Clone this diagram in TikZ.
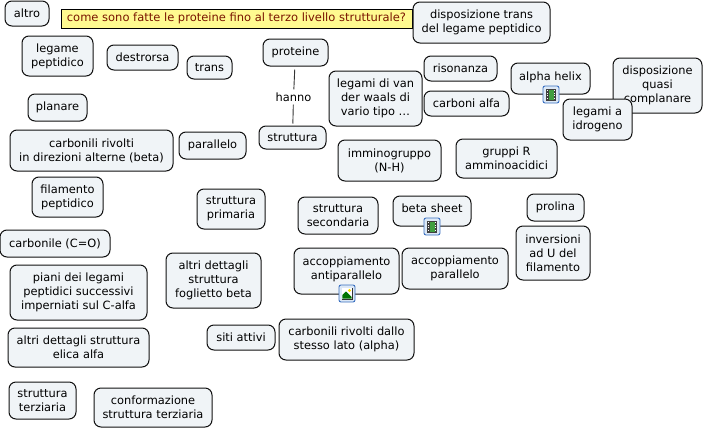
\documentclass[tikz,border=0pt]{standalone}
\usepackage{fontspec}
\setmainfont{DejaVu Sans}
\definecolor{boxfill}{HTML}{F0F4F7}
\definecolor{boxline}{HTML}{111111}
\definecolor{titlefill}{HTML}{FFFA90}
\definecolor{titletext}{HTML}{7A1500}
\definecolor{iconblue}{HTML}{3A6FC0}
\definecolor{iconpale}{HTML}{DCE8F6}
\tikzset{
  concept/.style={draw=boxline,fill=boxfill,rounded corners=7pt,line width=1pt,align=center,inner sep=0pt,font=\fontsize{11.4}{14}\selectfont,text=black},
  linker/.style={inner sep=0pt,font=\fontsize{11.4}{14}\selectfont,text=black},
  link/.style={draw=black!80,line width=0.9pt},
  titlebox/.style={draw=black,fill=titlefill,line width=1pt,inner sep=0pt,text=titletext,font=\fontsize{11.5}{14}\selectfont}
}
\newcommand{\bx}[6]{%
  \pgfmathsetmacro{\mycx}{(#2+#4)/2}\pgfmathsetmacro{\mycy}{(#3+#5)/2}%
  \pgfmathsetmacro{\mybw}{#4-#2}\pgfmathsetmacro{\mybh}{#5-#3}%
  \node[concept,minimum width=\mybw pt,minimum height=\mybh pt] (#1) at (\mycx,\mycy) {#6};}
\newcommand{\filmicon}[2]{%
  \begin{scope}[shift={(#1,#2)}]
    \fill[iconpale,draw=iconblue,line width=0.9pt,rounded corners=2pt] (0,0) rectangle (16,17);
    \fill[black!75] (3,2.5) rectangle (13,14.5);
    \fill[green!50!black!75] (5.5,3.5) rectangle (10.5,13.5);
    \foreach \yy in {4,6.5,9,11.5}{\fill[white] (3.7,\yy) rectangle (4.7,\yy+1.1);\fill[white] (11.3,\yy) rectangle (12.3,\yy+1.1);}
  \end{scope}}
\newcommand{\photoicon}[2]{%
  \begin{scope}[shift={(#1,#2)}]
    \fill[iconpale,draw=iconblue,line width=0.9pt,rounded corners=2pt] (0,0) rectangle (16,17);
    \fill[black!80] (2.5,2.5) rectangle (13.5,14.5);
    \fill[white] (3.3,3.3) rectangle (12.7,13.7);
    \fill[green!45!black] (3.3,13.7) -- (3.3,10) -- (7,6.5) -- (12.7,12) -- (12.7,13.7) -- cycle;
    \fill[yellow!80!orange] (10.5,5.5) circle (1.6);
  \end{scope}}
\begin{document}
\begin{tikzpicture}[x=1pt,y=-1pt]
\useasboundingbox (0,0) rectangle (705,429);
\fill[white] (0,0) rectangle (705,429);
\node[titlebox,minimum width=351pt,minimum height=19pt] (title) at (236.5,18.5) {come sono fatte le proteine fino al terzo livello strutturale?};
\bx{altro}{5}{1}{49}{26}{altro}
\bx{legame}{22}{36}{93}{76}{legame\\peptidico}
\bx{destrorsa}{107}{45}{178}{70}{destrorsa}
\bx{trans}{187}{56}{232}{79}{trans}
\bx{proteine}{263}{39}{328}{66}{proteine}
\bx{struttura}{259}{126}{326}{149}{struttura}
\bx{vanderwaals}{329}{71}{422}{126}{legami di van\\der waals di\\vario tipo \dots}
\bx{risonanza}{424}{56}{497}{81}{risonanza}
\bx{carbalfa}{424}{91}{509}{116}{carboni alfa}
\bx{alpha}{511}{63}{590}{94}{alpha helix\\[-9pt]}
\bx{quasi}{613}{58}{702}{113}{disposizione\\quasi\\complanare}
\bx{idrogeno}{563}{99}{632}{140}{legami a\\idrogeno}
\bx{disptrans}{413}{2}{550}{43}{disposizione trans\\del legame peptidico}
\bx{immino}{338}{140}{441}{181}{imminogruppo\\(N-H)}
\bx{gruppir}{456}{139}{557}{178}{gruppi R\\amminoacidici}
\bx{planare}{28}{94}{87}{121}{planare}
\bx{carbbeta}{10}{130}{173}{171}{carbonili rivolti\\in direzioni alterne (beta)}
\bx{parallelo}{179}{132}{246}{159}{parallelo}
\bx{filamento}{32}{177}{103}{217}{filamento\\peptidico}
\bx{primaria}{197}{189}{265}{229}{struttura\\primaria}
\bx{secondaria}{298}{197}{378}{234}{struttura\\secondaria}
\bx{beta}{393}{196}{471}{226}{beta sheet\\[-9pt]}
\bx{prolina}{527}{194}{584}{221}{prolina}
\bx{inversioni}{516}{226}{590}{280}{inversioni\\ad U del\\filamento}
\bx{anti}{294}{248}{399}{294}{accoppiamento\\antiparallelo\\[-9pt]}
\bx{accpar}{402}{248}{508}{289}{accoppiamento\\parallelo}
\bx{carbonile}{0}{230}{110}{257}{carbonile (C=O)}
\bx{foglietto}{166}{253}{261}{308}{altri dettagli\\struttura\\foglietto beta}
\bx{piani}{10}{265}{147}{320}{piani dei legami\\peptidici successivi\\imperniati sul C-alfa}
\bx{elica}{8}{328}{149}{367}{altri dettagli struttura\\elica alfa}
\bx{siti}{207}{325}{275}{350}{siti attivi}
\bx{carbalpha}{279}{319}{414}{360}{carbonili rivolti dallo\\stesso lato (alpha)}
\bx{terziaria}{9}{382}{76}{419}{struttura\\terziaria}
\bx{conformazione}{94}{388}{212}{427}{conformazione\\struttura terziaria}
\node[linker] (hanno) at (293.5,97) {hanno};
\draw[link,shorten <=3pt,shorten >=3pt] (proteine) -- (hanno);
\draw[link,shorten <=3pt,shorten >=2pt] (hanno) -- (struttura);
\filmicon{543}{86}
\filmicon{424}{218}
\photoicon{339}{285}
\end{tikzpicture}
\end{document}
